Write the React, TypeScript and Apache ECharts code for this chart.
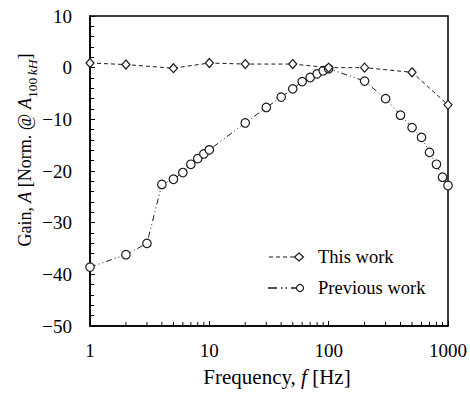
import React, { useEffect, useRef } from "react";
import * as echarts from "echarts";

const thisFreq = [1, 2, 5, 10, 20, 50, 100, 200, 500, 1000];
const thisGain = [0.9, 0.6, -0.1, 0.9, 0.7, 0.7, 0, 0, -0.9, -7.2];

const prevFreq = [1, 2, 3, 4, 5, 6, 7, 8, 9, 10, 20, 30, 40, 50, 60, 70, 80, 90, 100, 200, 300, 400, 500, 600, 700, 800, 900, 1000];
const prevGain = [-38.6, -36.2, -34.0, -22.6, -21.6, -20.3, -18.7, -17.6, -16.7, -15.9, -10.7, -7.7, -5.7, -4.1, -2.7, -1.9, -1.2, -0.6, -0.2, -2.6, -6.0, -9.2, -11.6, -13.5, -16.4, -18.7, -21.2, -22.8];

const xMinorTicks = [2, 3, 4, 5, 6, 7, 8, 9, 20, 30, 40, 50, 60, 70, 80, 90, 200, 300, 400, 500, 600, 700, 800, 900];
const legendNames = ["This work", "Previous work"];

const FONT = "'Liberation Serif', serif";
const INK = "#1a1a1a";

export default function App() {
  const ref = useRef<HTMLDivElement>(null);
  useEffect(() => {
    if (!ref.current) return;
    const chart = echarts.init(ref.current, undefined, { renderer: "svg" });
    const yMin = -50;
    chart.setOption({
      animation: false,
      backgroundColor: "#fff",
      textStyle: { fontFamily: FONT, color: "#000" },
      grid: { left: 90, right: 22, top: 16, bottom: 68, show: true, borderColor: "#000", borderWidth: 1.5, backgroundColor: "transparent" },
      xAxis: {
        type: "log",
        logBase: 10,
        min: 1,
        max: 1000,
        axisLine: { show: true, onZero: false, lineStyle: { color: "#000", width: 1.5 } },
        axisTick: { show: true, inside: true, length: 5, lineStyle: { color: "#000" } },
        minorTick: { show: false },
        splitLine: { show: false },
        axisLabel: {
          color: "#000",
          fontFamily: FONT,
          fontSize: 19,
          margin: 15,
          formatter: (v: number) => String(Math.round(v)),
        },
      },
      yAxis: {
        type: "value",
        min: -50,
        max: 10,
        interval: 10,
        axisLine: { show: true, onZero: false, lineStyle: { color: "#000", width: 1.5 } },
        axisTick: { show: true, inside: true, length: 5, lineStyle: { color: "#000" } },
        minorTick: { show: true, splitNumber: 5, length: 4, lineStyle: { color: "#000" } },
        splitLine: { show: false },
        axisLabel: {
          color: "#000",
          fontFamily: FONT,
          fontSize: 19,
          margin: 18,
          formatter: (v: number) => (v < 0 ? "\u2212" + Math.abs(v) : String(v)),
        },
      },
      series: [
        {
          name: legendNames[0],
          type: "line",
          data: thisFreq.map((f, i) => [f, thisGain[i]]),
          symbol: "diamond",
          symbolSize: [8, 9],
          lineStyle: { color: INK, width: 1, type: [4, 3] },
          itemStyle: { color: "#fff", borderColor: INK, borderWidth: 1.2 },
          z: 3,
        },
        {
          name: legendNames[1],
          type: "line",
          data: prevFreq.map((f, i) => [f, prevGain[i]]),
          symbol: "circle",
          symbolSize: 8.5,
          lineStyle: { color: INK, width: 1, type: [6, 3, 1, 3, 1, 3] },
          itemStyle: { color: "#fff", borderColor: INK, borderWidth: 1.2 },
          z: 2,
        },
        {
          type: "custom",
          silent: true,
          clip: false,
          data: xMinorTicks.map((v) => [v, yMin]),
          renderItem: (params: any, api: any) => {
            const p = api.coord([api.value(0), api.value(1)]);
            return {
              type: "line",
              shape: { x1: p[0], y1: p[1], x2: p[0], y2: p[1] - 4 },
              style: { stroke: "#000", lineWidth: 1 },
            };
          },
        },
      ],
      graphic: [
        {
          type: "text",
          x: 25,
          y: 150,
          rotation: Math.PI / 2,
          style: {
            text: "{n|Gain, }{i|A}{n| [Norm. @ }{i|A}{s|100\u2009}{si|kH}{n|]}",
            align: "center",
            verticalAlign: "middle",
            fill: "#000",
            rich: {
              n: { fontFamily: FONT, fontSize: 18, lineHeight: 28, fill: "#000" },
              i: { fontFamily: FONT, fontSize: 18, fontStyle: "italic", lineHeight: 28, fill: "#000" },
              s: { fontFamily: FONT, fontSize: 13.5, lineHeight: 14, verticalAlign: "bottom", fill: "#000" },
              si: { fontFamily: FONT, fontSize: 13.5, fontStyle: "italic", lineHeight: 14, verticalAlign: "bottom", fill: "#000" },
            },
          },
        },
        {
          type: "text",
          x: 277,
          y: 377,
          style: {
            text: "{n|Frequency, }{i|f}{n| [Hz]}",
            align: "center",
            verticalAlign: "middle",
            fill: "#000",
            rich: {
              n: { fontFamily: FONT, fontSize: 21, fill: "#000" },
              i: { fontFamily: FONT, fontSize: 21, fontStyle: "italic", fill: "#000" },
            },
          },
        },
        // legend
        { type: "line", shape: { x1: 269, y1: 257, x2: 295, y2: 257 }, style: { stroke: INK, lineWidth: 1.2, lineDash: [4, 3] } },
        { type: "polygon", shape: { points: [[299, 253], [303.5, 257], [299, 261], [294.5, 257]] }, style: { fill: "#fff", stroke: INK, lineWidth: 1.2 } },
        { type: "text", x: 318, y: 257, style: { text: legendNames[0], fontFamily: FONT, fontSize: 18.5, fill: "#000", verticalAlign: "middle" } },
        { type: "line", shape: { x1: 268, y1: 288, x2: 296, y2: 288 }, style: { stroke: INK, lineWidth: 1.4, lineDash: [9, 4, 1.5, 3, 1.5, 4] } },
        { type: "circle", shape: { cx: 300, cy: 288, r: 3.5 }, style: { fill: "#fff", stroke: INK, lineWidth: 1.2 } },
        { type: "text", x: 318, y: 288, style: { text: legendNames[1], fontFamily: FONT, fontSize: 18.5, fill: "#000", verticalAlign: "middle" } },
      ],
    });
    return () => chart.dispose();
  }, []);
  return <div ref={ref} style={{ position: "fixed", left: 0, top: 0, width: 470, height: 394 }} />;
}
